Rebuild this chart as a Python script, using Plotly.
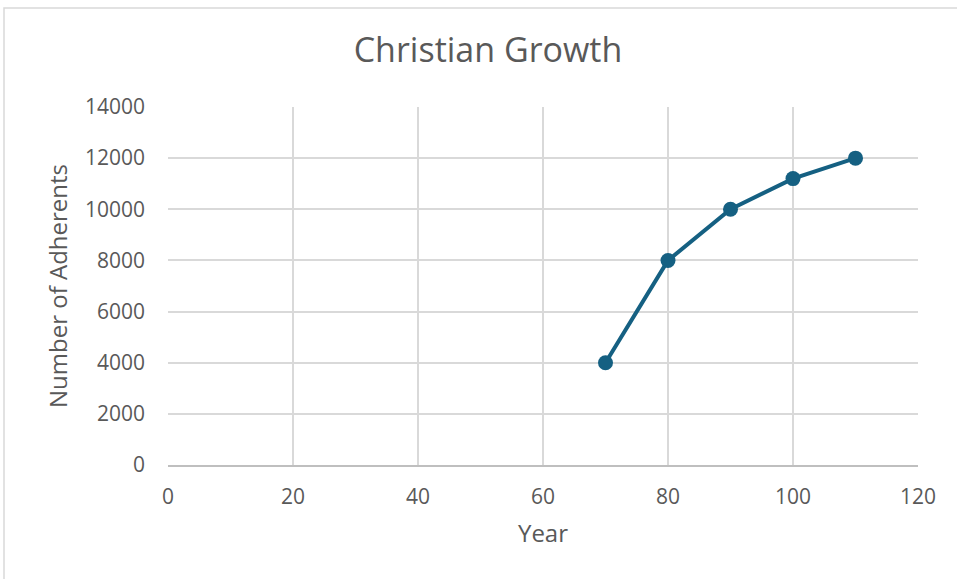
import plotly.graph_objects as go

years = [70, 80, 90, 100, 110]
adherents = [4000, 8000, 10000, 11200, 12000]
x_ticks = [0, 20, 40, 60, 80, 100, 120]
y_ticks = [0, 2000, 4000, 6000, 8000, 10000, 12000, 14000]

W, H = 957, 579
L, R, T, B = 168, 39, 107, 114
pw, ph = W - L - R, H - T - B

font = "Open Sans, Liberation Sans, sans-serif"
txt = "#595959"

fig = go.Figure(go.Scatter(
    x=years, y=adherents, mode="lines+markers",
    line=dict(color="#156082", width=4),
    marker=dict(color="#156082", size=15),
))

fig.update_layout(
    width=W, height=H,
    margin=dict(l=L, r=R, t=T, b=B),
    paper_bgcolor="white", plot_bgcolor="white",
    showlegend=False,
    font=dict(family=font, color=txt),
    title=dict(text="Christian Growth", x=488 / W, xanchor="center",
               y=1 - 50 / H, yanchor="middle",
               font=dict(size=34, color=txt, family=font)),
    xaxis=dict(range=[0, 120], tickvals=x_ticks, ticktext=[str(v) for v in x_ticks],
               showgrid=True, gridcolor="#d9d9d9", gridwidth=2,
               zeroline=False, showline=True, linecolor="#bfbfbf", linewidth=2,
               ticks="", ticklabelstandoff=12,
               tickfont=dict(size=21, color=txt),
               title=dict(text="Year", font=dict(size=24, color=txt), standoff=16)),
    yaxis=dict(range=[0, 14000], tickvals=y_ticks, ticktext=[str(v) for v in y_ticks],
               showgrid=True, gridcolor="#d9d9d9", gridwidth=2,
               zeroline=False, showline=False, ticks="", ticklabelstandoff=22,
               tickfont=dict(size=21, color=txt),
               title=dict(text="Number of Adherents", font=dict(size=24, color=txt), standoff=10)),
)

fig.add_shape(type="rect", xref="paper", yref="paper",
              x0=(4 - L) / pw, x1=(W + 20 - L) / pw,
              y0=-(B + 20) / ph, y1=(H - B - 8) / ph,
              line=dict(color="#d9d9d9", width=1.5), fillcolor="rgba(0,0,0,0)", layer="below")

fig.write_html("out.html")
